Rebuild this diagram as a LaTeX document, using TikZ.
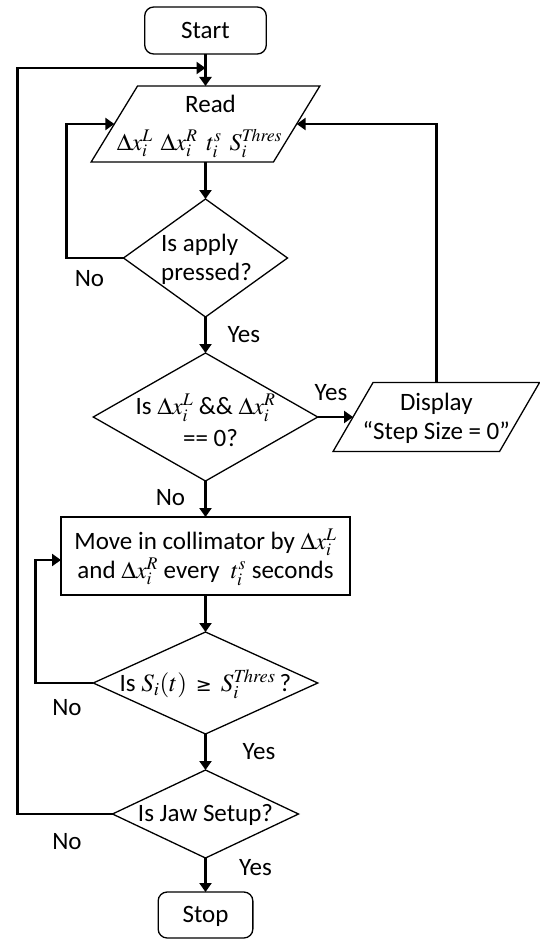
\documentclass[tikz,border=0pt]{standalone}
\usepackage{mathptmx}
\usepackage[no-math]{fontspec}
\setmainfont{Carlito}
\newfontfamily\dv{DejaVu Sans}
\usetikzlibrary{shapes.geometric,arrows.meta}
\newcommand\mth[1]{{\fontsize{24}{28}\selectfont$#1$}}
\newcommand\mthb[1]{{\fontsize{25}{29}\selectfont$#1$}}
\newcommand\zt[3]{\smash{\makebox[0pt]{\raisebox{#2}{\begin{tabular}{@{}#1@{}}#3\end{tabular}}}}}
\renewcommand\arraystretch{1}
\begin{document}
\begin{tikzpicture}[x=1pt,y=-1pt,
  font=\fontsize{25}{29}\selectfont,
  shp/.style={draw=black, line width=1.3pt, inner sep=0pt, outer sep=0pt},
  rbox/.style={shp, rectangle, rounded corners=9pt},
  pbox/.style={shp, rectangle},
  dia/.style={shp, diamond},
  iobox/.style={rectangle, inner sep=0pt, outer sep=0pt},
  arr/.style={line width=2.6pt, -{Triangle[length=9pt,width=12pt]}},
  lbl/.style={inner sep=0pt}]
\useasboundingbox (0,0) rectangle (540,939);

% nodes
\node[rbox, minimum width=121.6pt, minimum height=47pt] (start) at (205.5,30.5) {\zt{c}{-8.2pt}{Start}};
\node[iobox, minimum width=182.3pt, minimum height=76pt] (read) at (205.5,124) {\zt{c}{-8pt}{\hspace{10pt}Read\\[8pt]\hspace{-12pt}\mth{\Delta x_i^L\hspace{8pt}\Delta x_i^R\hspace{9pt}t_i^s\hspace{8pt}S_i^{\mathit{Thres}}}}};
\draw[shp] ([xshift=-23.2pt]read.south west) -- ([xshift=-23.2pt]read.south east) -- ([xshift=23.2pt]read.north east) -- ([xshift=23.2pt]read.north west) -- cycle;
\node[dia, minimum width=164pt, minimum height=118pt] (dec1) at (205.5,258) {\zt{l}{-8.2pt}{\hspace{2pt}Is apply\\\hspace{2pt}pressed?}};
\node[dia, minimum width=224.5pt, minimum height=128pt] (dec2) at (205.5,417) {\zt{c}{-14pt}{Is \mth{\Delta x_i^L} \&\& \mth{\Delta x_i^R}\\[3pt]\hspace{10pt}== 0?}};
\node[iobox, minimum width=166.5pt, minimum height=69pt] (disp) at (436.3,417) {\zt{c}{-8.2pt}{Display\\“Step Size = 0”}};
\draw[shp] ([xshift=-20pt]disp.south west) -- ([xshift=-20pt]disp.south east) -- ([xshift=20pt]disp.north east) -- ([xshift=20pt]disp.north west) -- cycle;
\node[pbox, minimum width=289pt, minimum height=78pt] (move) at (205.5,556) {\zt{c}{-8.2pt}{Move in collimator by \mth{\Delta x_i^L}\\and \mth{\Delta x_i^R}\ every\ \ \mth{t_i^s}\ seconds}};
\node[dia, minimum width=224.5pt, minimum height=102pt] (dec3) at (205.5,683) {\zt{c}{-8.2pt}{Is \mthb{S_i(t)}\hspace{9pt}{\dv\fontsize{19}{20}\selectfont ≥}\hspace{9pt}\mthb{S_i^{\mathit{Thres}}}\,?}};
\node[dia, minimum width=186pt, minimum height=88pt] (dec4) at (205.5,814) {\zt{c}{-8.2pt}{Is Jaw Setup?}};
\node[rbox, minimum width=94.7pt, minimum height=46pt] (stop) at (205.5,915) {\zt{c}{-8.2pt}{Stop}};

% labels
\node[lbl] (l1) at (89.5,279) {No};
\node[lbl] (l2) at (243.8,335) {Yes};
\node[lbl] (l3) at (331,393) {Yes};
\node[lbl] (l4) at (170.5,498) {No};
\node[lbl] (l5) at (67,708) {No};
\node[lbl] (l6) at (259,752) {Yes};
\node[lbl] (l7) at (67,842) {No};
\node[lbl] (l8) at (255.5,868) {Yes};

% helper coordinates
\coordinate (join) at (205.5,68);
\coordinate (ox) at (17.2,0);
\coordinate (ix1) at (66.5,0);
\coordinate (ix2) at (35.5,0);
\coordinate (mvin) at ([yshift=-4pt]move.west);

% connectors
\draw[arr] (start.south) -- (read.north);
\draw[arr] (dec4.west) -| (ox |- join) -- (join);
\draw[arr] (read.south) -- (dec1.north);
\draw[arr] (dec1.west) -| (ix1 |- read.west) -- (read.west);
\draw[arr] (dec1.south) -- (dec2.north);
\draw[arr] (dec2.east) -- (disp.west);
\draw[arr] (disp.north) |- (read.east);
\draw[arr] (dec2.south) -- (move.north);
\draw[arr] (move.south) -- (dec3.north);
\draw[arr] (dec3.west) -| (ix2 |- mvin) -- (mvin);
\draw[arr] (dec3.south) -- (dec4.north);
\draw[arr] (dec4.south) -- (stop.north);
\end{tikzpicture}
\end{document}
